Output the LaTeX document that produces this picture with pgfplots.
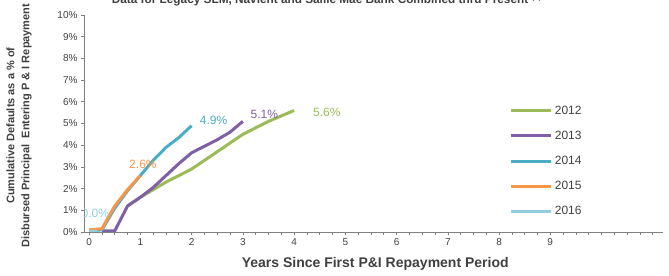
\documentclass[border=0pt]{standalone}
\usepackage{pgfplots}
\pgfplotsset{compat=1.18}
\usepackage{fontspec}
\setmainfont{Liberation Sans}
\definecolor{cg}{HTML}{9BBB59}
\definecolor{cp}{HTML}{7F5FA6}
\definecolor{ct}{HTML}{4BACC6}
\definecolor{co}{HTML}{F79646}
\definecolor{cl}{HTML}{93CDDD}
\definecolor{txt}{HTML}{404040}
\begin{document}
\begin{tikzpicture}
\path[use as bounding box] (0,0) rectangle (669bp,276bp);
\node[font=\bfseries\fontsize{11.8bp}{13bp}\selectfont, text=txt] at (327bp,276bp) {Data for Legacy SLM, Navient and Sallie Mae Bank Combined thru Present \textsuperscript{(1)}};
\begin{axis}[
  at={(84bp,44bp)}, anchor=south west,
  scale only axis, width=579bp, height=217bp,
  xmin=-0.1, xmax=11.2, ymin=0, ymax=10,
  axis lines*=left,
  axis line style={gray, line width=0.8bp},
  xtick={0,1,...,9}, minor xtick={0,0.25,...,11},
  ytick={0,1,...,10},
  yticklabel={\pgfmathprintnumber{\tick}\%},
  tick align=outside,
  major tick length=3bp, minor tick length=3bp,
  tick style={gray, line width=0.6bp},
  tick label style={font=\fontsize{10bp}{11bp}\selectfont, text=txt},
  /pgf/number format/assume math mode=true,
  ylabel={Cumulative Defaults as a \% of\\Disbursed Principal\ \ Entering P \& I Repayment},
  ylabel style={at={(axis description cs:-0.112,0.49)}, anchor=center, align=center, font=\bfseries\fontsize{11bp}{15bp}\selectfont, text=txt},
  xlabel={Years Since First P\&I Repayment Period},
  xlabel style={at={(axis description cs:0.503,-0.147)}, anchor=center, font=\bfseries\fontsize{14bp}{16bp}\selectfont, text=txt},
  legend style={at={(0.73,0.60)}, anchor=north west, draw=none, fill=none,
    font=\fontsize{12bp}{13bp}\selectfont, text=txt, row sep=11.2bp},
  legend cell align=left,
  legend image code/.code={\draw[#1, line width=3bp] (0bp,0bp) -- (40bp,0bp);},
  every axis plot/.append style={line width=3bp, mark=none},
]
\addplot[cg] coordinates {(0.75,1.2)(1,1.6)(1.25,1.95)(1.5,2.3)(1.75,2.6)(2,2.9)(2.25,3.3)(2.5,3.7)(2.75,4.1)(3,4.5)(3.25,4.8)(3.5,5.1)(3.75,5.35)(4,5.6)};
\addlegendentry{2012}
\addplot[cp] coordinates {(0.25,0.05)(0.5,0.05)(0.75,1.2)(1,1.6)(1.25,2.05)(1.5,2.6)(1.75,3.15)(2,3.65)(2.25,3.95)(2.5,4.25)(2.75,4.6)(3,5.1)};
\addlegendentry{2013}
\addplot[ct] coordinates {(0,0.05)(0.25,0.1)(0.5,1.1)(0.75,1.9)(1,2.6)(1.25,3.3)(1.5,3.9)(1.75,4.35)(2,4.9)};
\addlegendentry{2014}
\addplot[co] coordinates {(0,0.1)(0.25,0.15)(0.5,1.2)(0.75,1.95)(1,2.6)};
\addlegendentry{2015}
\addplot[cl] coordinates {(0,0.02)(0.15,0.05)};
\addlegendentry{2016}
\node[text=ct, font=\fontsize{12bp}{13bp}\selectfont] at (axis cs:2.43,5.15) {4.9\%};
\node[text=cp, font=\fontsize{12bp}{13bp}\selectfont] at (axis cs:3.42,5.4) {5.1\%};
\node[text=cg, font=\fontsize{12bp}{13bp}\selectfont] at (axis cs:4.64,5.5) {5.6\%};
\node[text=co, font=\fontsize{12bp}{13bp}\selectfont] at (axis cs:1.05,3.1) {2.6\%};
\node[text=cl, font=\fontsize{12bp}{13bp}\selectfont] at (axis cs:0.12,0.86) {0.0\%};
\end{axis}
\end{tikzpicture}
\end{document}
